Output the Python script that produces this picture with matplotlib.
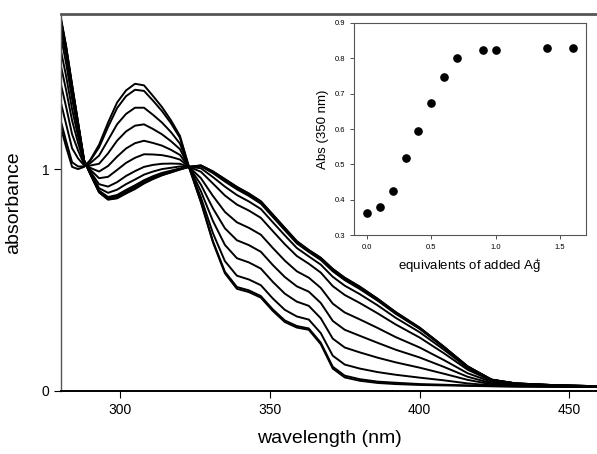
import matplotlib
matplotlib.use("Agg")
import matplotlib.pyplot as plt

plt.rcParams['font.family'] = ['Liberation Sans', 'DejaVu Sans']
plt.rcParams['mathtext.fontset'] = 'custom'
plt.rcParams['mathtext.rm'] = 'Liberation Sans'
plt.rcParams['mathtext.it'] = 'Liberation Sans'

# UV-vis titration spectra, one curve per Ag+ addition
wavelength = [280, 282, 284, 286, 288, 290, 293, 296, 299, 302,
              305, 308, 311, 314, 317, 320, 323, 327, 331, 335,
              339, 343, 347, 351, 355, 359, 363, 367, 371, 375,
              380, 386, 392, 400, 408, 416, 424, 432, 445, 460]

abs_000 = [1.20, 1.10, 1.01, 1.00, 1.01, 1.04, 1.11, 1.21, 1.30, 1.355,
           1.385, 1.378, 1.33, 1.28, 1.22, 1.15, 1.01, 0.85, 0.67, 0.53,
           0.46, 0.445, 0.42, 0.36, 0.31, 0.285, 0.275, 0.21, 0.10, 0.06,
           0.045, 0.035, 0.03, 0.026, 0.024, 0.022, 0.02, 0.019, 0.018, 0.017]
abs_010 = [1.229, 1.126, 1.031, 1.012, 1.012, 1.037, 1.098, 1.19, 1.275, 1.329,
           1.358, 1.353, 1.309, 1.262, 1.207, 1.141, 1.01, 0.853, 0.675, 0.537,
           0.468, 0.453, 0.427, 0.367, 0.317, 0.292, 0.281, 0.217, 0.108, 0.068,
           0.052, 0.041, 0.036, 0.03, 0.027, 0.024, 0.021, 0.019, 0.018, 0.017]
abs_020 = [1.314, 1.203, 1.094, 1.048, 1.017, 1.026, 1.061, 1.131, 1.202, 1.249,
           1.277, 1.277, 1.245, 1.21, 1.167, 1.115, 1.01, 0.872, 0.711, 0.585,
           0.519, 0.502, 0.476, 0.416, 0.365, 0.335, 0.321, 0.26, 0.158, 0.118,
           0.10, 0.084, 0.072, 0.059, 0.047, 0.033, 0.024, 0.021, 0.019, 0.017]
abs_030 = [1.399, 1.281, 1.157, 1.084, 1.022, 1.016, 1.024, 1.071, 1.128, 1.17,
           1.196, 1.202, 1.181, 1.157, 1.126, 1.09, 1.01, 0.90, 0.766, 0.658,
           0.598, 0.579, 0.551, 0.491, 0.438, 0.402, 0.383, 0.327, 0.235, 0.195,
           0.173, 0.149, 0.128, 0.104, 0.077, 0.049, 0.029, 0.023, 0.020, 0.018]
abs_040 = [1.482, 1.357, 1.219, 1.118, 1.027, 1.006, 0.989, 1.014, 1.056, 1.093,
           1.117, 1.128, 1.118, 1.106, 1.087, 1.064, 1.01, 0.93, 0.823, 0.733,
           0.679, 0.657, 0.627, 0.567, 0.513, 0.471, 0.447, 0.396, 0.315, 0.275,
           0.248, 0.216, 0.185, 0.15, 0.108, 0.063, 0.034, 0.026, 0.021, 0.018]
abs_050 = [1.552, 1.42, 1.27, 1.148, 1.031, 0.998, 0.959, 0.965, 0.996, 1.028,
           1.051, 1.067, 1.066, 1.063, 1.055, 1.043, 1.01, 0.959, 0.879, 0.807,
           0.76, 0.735, 0.704, 0.644, 0.587, 0.539, 0.51, 0.464, 0.393, 0.353,
           0.322, 0.283, 0.242, 0.195, 0.139, 0.079, 0.04, 0.028, 0.023, 0.019]
abs_060 = [1.615, 1.478, 1.317, 1.174, 1.035, 0.99, 0.932, 0.921, 0.941, 0.969,
           0.991, 1.01, 1.019, 1.024, 1.025, 1.024, 1.01, 0.988, 0.935, 0.881,
           0.84, 0.813, 0.78, 0.72, 0.661, 0.608, 0.573, 0.533, 0.472, 0.432,
           0.396, 0.349, 0.299, 0.24, 0.17, 0.095, 0.045, 0.031, 0.024, 0.019]
abs_070 = [1.655, 1.514, 1.347, 1.191, 1.037, 0.985, 0.914, 0.893, 0.907, 0.932,
           0.953, 0.975, 0.989, 1.0, 1.006, 1.012, 1.01, 1.004, 0.964, 0.921,
           0.883, 0.854, 0.82, 0.76, 0.701, 0.644, 0.606, 0.569, 0.514, 0.474,
           0.436, 0.385, 0.329, 0.264, 0.186, 0.103, 0.048, 0.032, 0.024, 0.02]
abs_090 = [1.683, 1.539, 1.367, 1.203, 1.039, 0.982, 0.903, 0.874, 0.883, 0.906,
           0.927, 0.95, 0.968, 0.983, 0.993, 1.003, 1.01, 1.013, 0.982, 0.944,
           0.909, 0.879, 0.844, 0.784, 0.724, 0.665, 0.626, 0.59, 0.539, 0.499,
           0.459, 0.406, 0.347, 0.279, 0.196, 0.107, 0.049, 0.033, 0.025, 0.02]
abs_100 = [1.69, 1.546, 1.373, 1.206, 1.039, 0.981, 0.899, 0.869, 0.877, 0.899,
           0.92, 0.944, 0.963, 0.978, 0.99, 1.001, 1.01, 1.015, 0.987, 0.951,
           0.915, 0.886, 0.851, 0.791, 0.731, 0.671, 0.631, 0.596, 0.546, 0.506,
           0.466, 0.411, 0.352, 0.282, 0.198, 0.109, 0.05, 0.033, 0.025, 0.02]
abs_140 = [1.698, 1.553, 1.378, 1.209, 1.04, 0.98, 0.896, 0.864, 0.87, 0.892,
           0.913, 0.937, 0.957, 0.973, 0.986, 0.999, 1.01, 1.016, 0.989, 0.954,
           0.919, 0.889, 0.854, 0.794, 0.734, 0.674, 0.634, 0.599, 0.549, 0.509,
           0.469, 0.414, 0.354, 0.284, 0.199, 0.11, 0.05, 0.033, 0.025, 0.02]
abs_160 = [1.70, 1.555, 1.38, 1.21, 1.04, 0.98, 0.895, 0.862, 0.868, 0.89,
           0.91, 0.935, 0.955, 0.972, 0.985, 0.998, 1.01, 1.017, 0.99, 0.955,
           0.92, 0.89, 0.855, 0.795, 0.735, 0.675, 0.635, 0.60, 0.55, 0.51,
           0.47, 0.415, 0.355, 0.285, 0.20, 0.11, 0.05, 0.033, 0.025, 0.02]

spectra = [abs_000, abs_010, abs_020, abs_030, abs_040, abs_050,
           abs_060, abs_070, abs_090, abs_100, abs_140, abs_160]

# inset: absorbance at 350 nm vs equivalents
equiv = [0.0, 0.1, 0.2, 0.3, 0.4, 0.5, 0.6, 0.7, 0.9, 1.0, 1.4, 1.6]
abs_350 = [0.362, 0.379, 0.425, 0.517, 0.595, 0.674, 0.746, 0.801, 0.823, 0.824, 0.829, 0.829]

fig = plt.figure(figsize=(5.97, 4.54), dpi=100)
ax = fig.add_axes([0.1022, 0.1394, 0.8978, 0.8298])

for spec in spectra:
    ax.plot(wavelength, spec, color='black', linewidth=1.4)

ax.set_xlim(280.3, 459.2)
ax.set_ylim(0, 1.7)
ax.set_xticks([300, 350, 400, 450])
ax.set_yticks([0, 1])
ax.tick_params(direction='out', length=5, width=0.8, labelsize=10, colors='black')
ax.set_xlabel('wavelength (nm)', fontsize=14, labelpad=10)
ax.set_ylabel('absorbance', fontsize=14, labelpad=14)
ax.spines['right'].set_visible(False)
ax.spines['top'].set_color('#555555')
ax.spines['top'].set_linewidth(2.0)
ax.spines['left'].set_color('#555555')
ax.spines['left'].set_linewidth(1.0)
ax.spines['bottom'].set_color('black')
ax.spines['bottom'].set_linewidth(1.4)

ins = fig.add_axes([0.593, 0.4817, 0.3886, 0.4683])
ins.plot(equiv, abs_350, 'o', color='black', markersize=5.2)
ins.set_xlim(-0.1, 1.7)
ins.set_ylim(0.3, 0.9)
ins.set_xticks([0.0, 0.5, 1.0, 1.5])
ins.set_xticklabels(['0.0', '0.5', '1.0', '1.5'])
ins.set_yticks([0.3, 0.4, 0.5, 0.6, 0.7, 0.8, 0.9])
ins.set_yticklabels(['0.3', '0.4', '0.5', '0.6', '0.7', '0.8', '0.9'])
ins.tick_params(direction='out', length=3, width=0.6, labelsize=5.5, colors='#333333', labelcolor='black')
ins.set_xlabel(r'equivalents of added A$\mathrm{g}^{\!\!\!\!\!\!+}$', fontsize=9.5, labelpad=5)
ins.set_ylabel('Abs (350 nm)', fontsize=9.5, labelpad=4)
for s in ins.spines.values():
    s.set_color('#555555')
    s.set_linewidth(0.8)

fig.savefig('out.png', dpi=100)
